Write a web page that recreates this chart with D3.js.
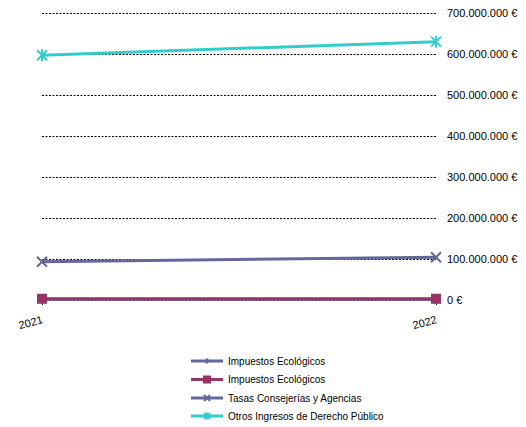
<!DOCTYPE html>
<html>
<head>
<meta charset="utf-8">
<script src="https://cdn.jsdelivr.net/npm/d3@7"></script>
<style>
  html, body { margin: 0; padding: 0; background: #fff; }
  svg { display: block; font-family: "Liberation Sans", Arial, sans-serif; }
</style>
</head>
<body>
<svg id="chart" width="526" height="427"></svg>
<script>
const years = ["2021", "2022"];
const yTicks = [0, 100000000, 200000000, 300000000, 400000000, 500000000, 600000000, 700000000];
const seriesNames = ["Impuestos Ecológicos", "Impuestos Ecológicos", "Tasas Consejerías y Agencias", "Otros Ingresos de Derecho Público"];
const impuestosA = [2000000, 2000000];
const impuestosB = [3000000, 3000000];
const tasas = [93000000, 104000000];
const otros = [596000000, 629000000];
const seriesColors = ["#666699", "#993366", "#666699", "#33CCCC"];
const seriesMarkers = ["diamond", "square", "x", "star"];

const series = seriesNames.map((n, i) => ({
  name: n, values: [impuestosA, impuestosB, tasas, otros][i],
  color: seriesColors[i], marker: seriesMarkers[i]
}));

const svg = d3.select("#chart");
const x = d3.scalePoint().domain(years).range([42, 436]);
const y = d3.scaleLinear().domain([0, 700000000]).range([300, 12.5]);

const fmt = v => d3.format(",")(v).replace(/,/g, ".") + " €";

// gridlines
svg.append("g").selectAll("line").data(yTicks).join("line")
  .attr("x1", 42).attr("x2", 436)
  .attr("y1", d => Math.round(y(d)) + 0.5).attr("y2", d => Math.round(y(d)) + 0.5)
  .attr("stroke", "#000").attr("stroke-width", 1).attr("stroke-dasharray", "2,1.5");

// y axis labels (right)
const yAxis = d3.axisRight(y).tickValues(yTicks).tickFormat(fmt).tickSize(0).tickPadding(0);
const yg = svg.append("g").attr("transform", "translate(447,0)").call(yAxis);
yg.select(".domain").remove();
yg.selectAll("text").attr("font-size", 11).attr("fill", "#000")
  .attr("font-family", "'Liberation Sans', Arial, sans-serif");

// x axis
const xAxis = d3.axisBottom(x).tickSize(5).tickPadding(0);
const xg = svg.append("g").attr("transform", "translate(0,300)").call(xAxis);
xg.select(".domain").remove();
xg.selectAll(".tick line").attr("stroke", "#000");
xg.selectAll("text").attr("font-size", 11).attr("fill", "#000")
  .attr("font-family", "'Liberation Sans', Arial, sans-serif")
  .attr("text-anchor", "end").attr("dy", 0).attr("y", 0)
  .attr("transform", "translate(1,23) rotate(-15)");

function drawMarker(g, type, color, size) {
  const s = size;
  if (type === "square") {
    g.append("rect").attr("x", -s).attr("y", -s).attr("width", 2 * s).attr("height", 2 * s).attr("fill", color);
  } else if (type === "diamond") {
    g.append("path").attr("d", `M0,${-s}L${s},0L0,${s}L${-s},0Z`).attr("fill", color);
  } else if (type === "x") {
    g.append("path").attr("d", `M${-s},${-s}L${s},${s}M${-s},${s}L${s},${-s}`)
      .attr("stroke", color).attr("stroke-width", 2).attr("fill", "none");
  } else if (type === "star") {
    g.append("path").attr("d", `M${-s},${-s}L${s},${s}M${-s},${s}L${s},${-s}M0,${-s * 1.2}L0,${s * 1.2}`)
      .attr("stroke", color).attr("stroke-width", 2).attr("fill", "none");
  }
}

const line = d3.line().x((d, i) => x(years[i])).y(d => y(d));
const sizes = { diamond: 4, square: 5, x: 5, star: 5 };

series.forEach(s => {
  svg.append("path").datum(s.values).attr("d", line)
    .attr("fill", "none").attr("stroke", s.color).attr("stroke-width", 3);
  s.values.forEach((v, i) => {
    const g = svg.append("g").attr("transform", `translate(${x(years[i])},${y(v)})`);
    drawMarker(g, s.marker, s.color, sizes[s.marker]);
  });
});

// legend
const legendY = [361, 379.5, 398, 416];
series.forEach((s, i) => {
  const g = svg.append("g").attr("transform", `translate(0,${legendY[i]})`);
  g.append("line").attr("x1", 191).attr("x2", 223).attr("y1", 0).attr("y2", 0)
    .attr("stroke", s.color).attr("stroke-width", 3);
  const mg = g.append("g").attr("transform", "translate(207,0)");
  drawMarker(mg, s.marker, s.color, s.marker === "square" ? 4 : 3);
  g.append("text").attr("x", 228).attr("y", 0).attr("dy", "0.35em")
    .attr("font-size", 10).attr("fill", "#000").text(s.name);
});
</script>
</body>
</html>
